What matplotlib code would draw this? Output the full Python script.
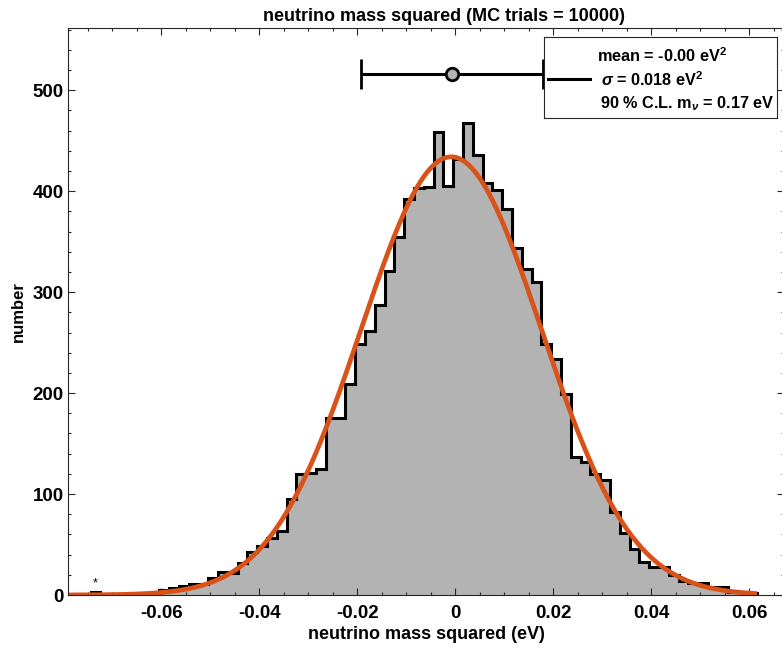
import numpy as np
import matplotlib
matplotlib.use("Agg")
import matplotlib.pyplot as plt
from matplotlib.lines import Line2D

# histogram of the MC trials (bin width 0.002)
bin_start = -0.0744
bin_width = 0.002
counts = [3, 0, 1, 0, 1, 2, 2, 5, 7, 9,
          11, 11, 17, 23, 22, 32, 43, 49, 56, 63,
          95, 120, 121, 125, 175, 175, 209, 249, 261, 287,
          321, 355, 392, 403, 404, 459, 405, 432, 468, 436,
          408, 401, 382, 344, 323, 310, 249, 234, 199, 137,
          132, 120, 114, 82, 61, 46, 33, 28, 28, 20,
          14, 12, 12, 8, 8, 3, 3, 2]

# gaussian fit parameters
fit_amp = 434
fit_mu = -0.0008
fit_sigma = 0.0184
fit_range = [-0.0790, 0.0616]

# error bar (mean +- sigma) drawn above the histogram
eb_mean = -0.0006
eb_sigma = 0.0186
eb_y = 516

# outlier marker
star_x = -0.0735
star_y = 11

legend_lines = ["mean = -0.00 eV$^\\mathbf{2}$",
                "$\\sigma$ = 0.018 eV$^\\mathbf{2}$",
                "90 % C.L. m$_\\nu$ = 0.17 eV"]

plt.rcParams['font.family'] = ['Liberation Sans', 'DejaVu Sans']
plt.rcParams['font.weight'] = 'bold'
plt.rcParams['mathtext.fontset'] = 'custom'
plt.rcParams['mathtext.rm'] = 'Liberation Sans:bold'
plt.rcParams['mathtext.bf'] = 'Liberation Sans:bold'
plt.rcParams['mathtext.it'] = 'Liberation Sans:italic'

fig = plt.figure(figsize=(7.82, 6.51), dpi=100)
ax = fig.add_axes([68 / 782, 56 / 651, 716 / 782, 567 / 651])

edges = bin_start + bin_width * np.arange(len(counts) + 1)
ax.stairs(counts, edges, fill=True, color="#b3b3b3", linewidth=0)
ax.stairs(counts, edges, color="black", linewidth=2.2, baseline=0)

xf = np.linspace(fit_range[0], fit_range[1], 400)
yf = fit_amp * np.exp(-0.5 * ((xf - fit_mu) / fit_sigma) ** 2)
ax.plot(xf, yf, color="#D95319", linewidth=3.4, solid_capstyle="butt")

ax.errorbar(eb_mean, eb_y, xerr=eb_sigma, fmt="o", color="black",
            mfc="#b3b3b3", mec="black", mew=2, ms=9,
            elinewidth=2.2, capsize=11, capthick=2.2)

ax.text(star_x, star_y, "*", ha="center", va="center", fontsize=9, fontweight="normal")

ax.set_xlim(-0.0790, 0.0671)
ax.set_ylim(0, 561.6)
ax.set_xticks([-0.06, -0.04, -0.02, 0, 0.02, 0.04, 0.06])
ax.set_xticklabels(["-0.06", "-0.04", "-0.02", "0", "0.02", "0.04", "0.06"])
ax.set_yticks([0, 100, 200, 300, 400, 500])
ax.set_xticks(np.arange(-0.075, 0.066, 0.005), minor=True)
ax.set_yticks(np.arange(0, 561, 20), minor=True)
ax.tick_params(which="both", direction="in", top=True, right=True,
               color="#262626", width=0.8)
ax.tick_params(which="major", length=5, labelsize=13.5)
ax.tick_params(which="minor", length=2.5)
ax.tick_params(axis="x", pad=7)
ax.tick_params(axis="y", pad=3)
for s in ax.spines.values():
    s.set_linewidth(0.8)
    s.set_color("#262626")

ax.set_xlabel("neutrino mass squared (eV)", fontsize=13, fontweight="bold", labelpad=3)
ax.set_ylabel("number", fontsize=12, fontweight="bold", labelpad=5)
ax.set_title("neutrino mass squared (MC trials = 10000)", fontsize=13,
             fontweight="bold", x=0.525, pad=5)

# legend box drawn by hand (one entry with three text lines)
bx0, by0, bx1, by1 = 544, 37, 777, 118
ax_box = fig.add_axes([bx0 / 782, (651 - by1) / 651, (bx1 - bx0) / 782, (by1 - by0) / 651])
ax_box.set_xlim(0, bx1 - bx0)
ax_box.set_ylim(by1 - by0, 0)
ax_box.set_xticks([])
ax_box.set_yticks([])
for s in ax_box.spines.values():
    s.set_linewidth(0.8)
    s.set_color("#262626")
ax_box.add_line(Line2D([4, 46], [42, 42], color="black", linewidth=2.2))
for i, (tx, ty) in enumerate([(53, 19), (57, 43), (56, 67)]):
    ax_box.text(tx, ty, legend_lines[i], fontsize=11.7, fontweight="bold", va="center", ha="left")

fig.savefig("out.png", dpi=100)
